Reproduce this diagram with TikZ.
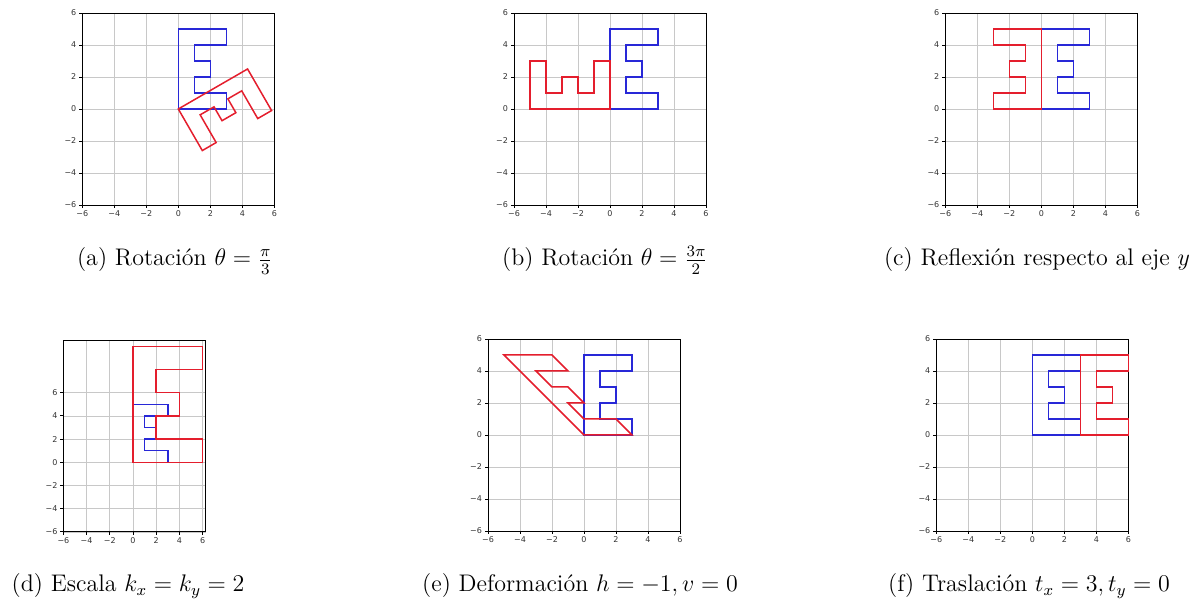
\documentclass[tikz,border=0pt]{standalone}
\usepackage{amsmath}
\usepackage{fontspec}
\newfontfamily\fuenteejes{DejaVu Sans}
\definecolor{azulE}{RGB}{40,40,215}
\definecolor{rojoE}{RGB}{228,30,45}
\definecolor{rejillagris}{RGB}{200,200,200}
\tikzset{
    % grid, frame and ticks of each plot
    rejilla/.style={line width=0.35pt, rejillagris},
    marco/.style={line width=0.45pt, black},
    tic/.style={line width=0.4pt, black},
    numeroeje/.style={font=\fuenteejes\fontsize{4}{4}\selectfont, inner sep=0pt, text=black!80},
    % the letter E, original and transformed
    letraazul/.style={line width=0.75pt, azulE},
    letraroja/.style={line width=0.75pt, rojoE},
    % subfigure captions
    leyenda/.style={font=\fontsize{12}{14}\selectfont, anchor=base, inner sep=0pt},
}
\newcommand{\letraE}[1]{\draw[#1] (0,0) -- (3,0) -- (3,1) -- (1,1) -- (1,2) -- (2,2)
    -- (2,3) -- (1,3) -- (1,4) -- (3,4) -- (3,5) -- (0,5) -- cycle;}
% #1 prefix for names, #2 right edge, #3 top edge
\newcommand{\ejes}[3]{%
    \foreach \v in {-6,-4,...,6}{
        \draw[rejilla] (\v,-6) -- (\v,#3);
        \draw[rejilla] (-6,\v) -- (#2,\v);
    }
    \draw[marco] (-6,-6) rectangle (#2,#3);
    \foreach \v/\t in {-6/−6,-4/−4,-2/−2,0/0,2/2,4/4,6/6}{
        \draw[tic] (\v,-6) -- ++(0pt,-1.75pt);
        \draw[tic] (-6,\v) -- ++(-1.75pt,0pt);
        \node[numeroeje, anchor=north] (#1-x\v) at ([yshift=-2.6pt]\v,-6) {\t};
        \node[numeroeje, anchor=east] (#1-y\v) at ([xshift=-2.8pt]-6,\v) {\t};
    }
}
\begin{document}
\begin{tikzpicture}[x=0.5pt, y=0.5pt]
    \useasboundingbox (0,0) rectangle (1200,608);
    % (a) rotation
    \begin{scope}[shift={(178.3,499)}, x=8pt, y=8pt]
        \ejes{a}{6}{6}
        \letraE{letraazul}
        \begin{scope}[rotate=-60]\letraE{letraroja}\end{scope}
    \end{scope}
    % (b) rotation
    \begin{scope}[shift={(610,499)}, x=8pt, y=8pt]
        \ejes{b}{6}{6}
        \letraE{letraazul}
        \begin{scope}[rotate=90]\letraE{letraroja}\end{scope}
    \end{scope}
    % (c) reflection
    \begin{scope}[shift={(1041.3,499)}, x=8pt, y=8pt]
        \ejes{c}{6}{6}
        \letraE{letraazul}
        \begin{scope}[xscale=-1]\letraE{letraroja}\end{scope}
    \end{scope}
    % (d) scale
    \begin{scope}[shift={(133,145.7)}, x=5.8pt, y=5.8pt]
        \ejes{d}{6.27}{10.5}
        \letraE{letraazul}
        \begin{scope}[scale=2]\letraE{letraroja}\end{scope}
    \end{scope}
    % (e) shear
    \begin{scope}[shift={(584,173)}, x=8pt, y=8pt]
        \ejes{e}{6}{6}
        \letraE{letraazul}
        \begin{scope}[cm={1,0,-1,1,(0,0)}]\letraE{letraroja}\end{scope}
    \end{scope}
    % (f) translation
    \begin{scope}[shift={(1032.3,173)}, x=8pt, y=8pt]
        \ejes{f}{6}{6}
        \letraE{letraazul}
        \begin{scope}[shift={(3,0)}]\letraE{letraroja}\end{scope}
    \end{scope}
    % captions
    \node[leyenda] (leyA) at (175,342) {(a) Rotación $\theta = \frac{\pi}{3}$};
    \node[leyenda] (leyB) at (605,342) {(b) Rotación $\theta = \frac{3\pi}{2}$};
    \node[leyenda] (leyC) at (1037,342) {(c) Reflexión respecto al eje $y$};
    \node[leyenda] (leyD) at (128,16) {(d) Escala $k_x = k_y = 2$};
    \node[leyenda] (leyE) at (580,16) {(e) Deformación $h = -1, v = 0$};
    \node[leyenda] (leyF) at (1029,16) {(f) Traslación $t_x = 3, t_y = 0$};
\end{tikzpicture}
\end{document}
